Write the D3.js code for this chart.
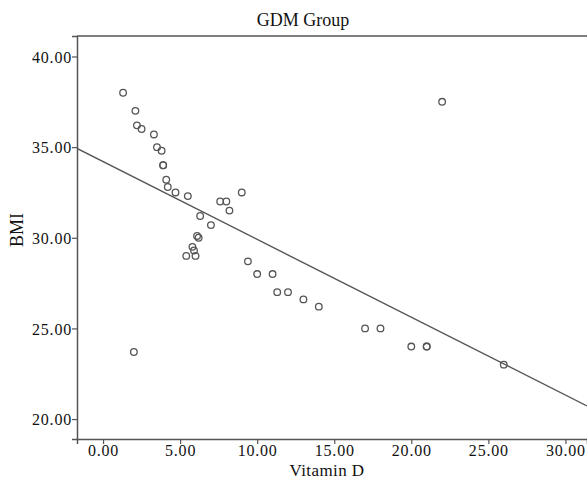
<!DOCTYPE html>
<html>
<head>
<meta charset="utf-8">
<script src="https://cdn.jsdelivr.net/npm/d3@7"></script>
<style>
  body { margin: 0; background: #fff; }
  svg { display: block; }
  text { font-family: "Liberation Serif", "DejaVu Serif", serif; fill: #111; }
</style>
</head>
<body>
<svg id="chart"></svg>
<script>
// values
const vitaminD = [1.3, 2.1, 2.2, 2.5, 3.3, 3.5, 3.8, 3.9, 3.9, 4.1,
                  4.2, 4.7, 5.5, 6.3, 7.0, 7.6, 8.0, 8.2, 9.0, 6.1,
                  6.2, 5.8, 5.9, 5.4, 6.0, 9.4, 10.0, 11.0, 11.3, 12.0,
                  13.0, 14.0, 17.0, 18.0, 20.0, 21.0, 21.0, 26.0, 22.0, 2.0];
const bmi = [38.0, 37.0, 36.2, 36.0, 35.7, 35.0, 34.8, 34.0, 34.0, 33.2,
             32.8, 32.5, 32.3, 31.2, 30.7, 32.0, 32.0, 31.5, 32.5, 30.1,
             30.0, 29.5, 29.3, 29.0, 29.0, 28.7, 28.0, 28.0, 27.0, 27.0,
             26.6, 26.2, 25.0, 25.0, 24.0, 24.0, 24.0, 23.0, 37.5, 23.7];
const xTicks = [0, 5, 10, 15, 20, 25, 30];
const yTicks = [20, 25, 30, 35, 40];

const width = 587, height = 480;
const plotLeft = 77, plotRight = 587, plotTop = 36, plotBottom = 439;

let svg = d3.select("#chart").attr("width", width).attr("height", height);

let scX = d3.scaleLinear().domain([-1.69, 31.4]).range([plotLeft, plotRight]);
let scY = d3.scaleLinear().domain([18.9, 41.13]).range([plotBottom, plotTop]);

const grey = "#555";

// frame: top border
svg.append("line")
    .attr("x1", plotLeft).attr("x2", plotRight)
    .attr("y1", plotTop).attr("y2", plotTop)
    .attr("stroke", grey).attr("stroke-width", 1.5);

let axisX = d3.axisBottom(scX).tickValues(xTicks).tickFormat(d3.format(".2f")).tickSizeOuter(0).tickSize(5);
let axisY = d3.axisLeft(scY).tickValues(yTicks).tickFormat(d3.format(".2f")).tickSizeOuter(0).tickSize(5);

let gx = svg.append("g").attr("transform", `translate(0, ${plotBottom})`).call(axisX);
let gy = svg.append("g").attr("transform", `translate(${plotLeft}, 0)`).call(axisY);

[gx, gy].forEach(g => {
    g.select(".domain").attr("stroke", grey).attr("stroke-width", 1.5);
    g.selectAll(".tick line").attr("stroke", grey).attr("stroke-width", 1.2);
    g.selectAll(".tick text")
        .style("font-family", '"Liberation Serif", serif')
        .style("font-size", "16px")
        .style("letter-spacing", "0.8px")
        .attr("fill", "#111");
});
gx.selectAll(".tick text").attr("dy", "0").attr("y", 17);
gy.selectAll(".tick text").attr("x", -5).attr("dy", "0.35em");

// least squares fit line
let mx = d3.mean(vitaminD), my = d3.mean(bmi);
let sxy = d3.sum(vitaminD, (v, i) => (v - mx) * (bmi[i] - my));
let sxx = d3.sum(vitaminD, v => (v - mx) * (v - mx));
let slope = sxy / sxx;
let intercept = my - slope * mx;
let xd = scX.domain();

svg.append("clipPath").attr("id", "plotclip")
    .append("rect").attr("x", plotLeft).attr("y", plotTop)
    .attr("width", plotRight - plotLeft).attr("height", plotBottom - plotTop);

svg.append("line")
    .attr("clip-path", "url(#plotclip)")
    .attr("x1", scX(xd[0])).attr("y1", scY(intercept + slope * xd[0]))
    .attr("x2", scX(xd[1])).attr("y2", scY(intercept + slope * xd[1]))
    .attr("stroke", grey).attr("stroke-width", 1.4);

svg.selectAll("circle.pt")
    .data(vitaminD)
    .enter()
    .append("circle")
    .attr("class", "pt")
    .attr("cx", d => scX(d))
    .attr("cy", (d, i) => scY(bmi[i]))
    .attr("r", 3.3)
    .attr("fill", "none")
    .attr("stroke", grey)
    .attr("stroke-width", 1.3);

svg.append("text")
    .attr("x", 303).attr("y", 26)
    .attr("text-anchor", "middle")
    .style("font-size", "18px")
    .text("GDM Group");

svg.append("text")
    .attr("x", 327).attr("y", 476)
    .attr("text-anchor", "middle")
    .style("font-size", "17px")
    .style("letter-spacing", "0.4px")
    .text("Vitamin D");

svg.append("text")
    .attr("transform", "translate(23, 230) rotate(-90)")
    .attr("text-anchor", "middle")
    .style("font-size", "18px")
    .text("BMI");
</script>
</body>
</html>
